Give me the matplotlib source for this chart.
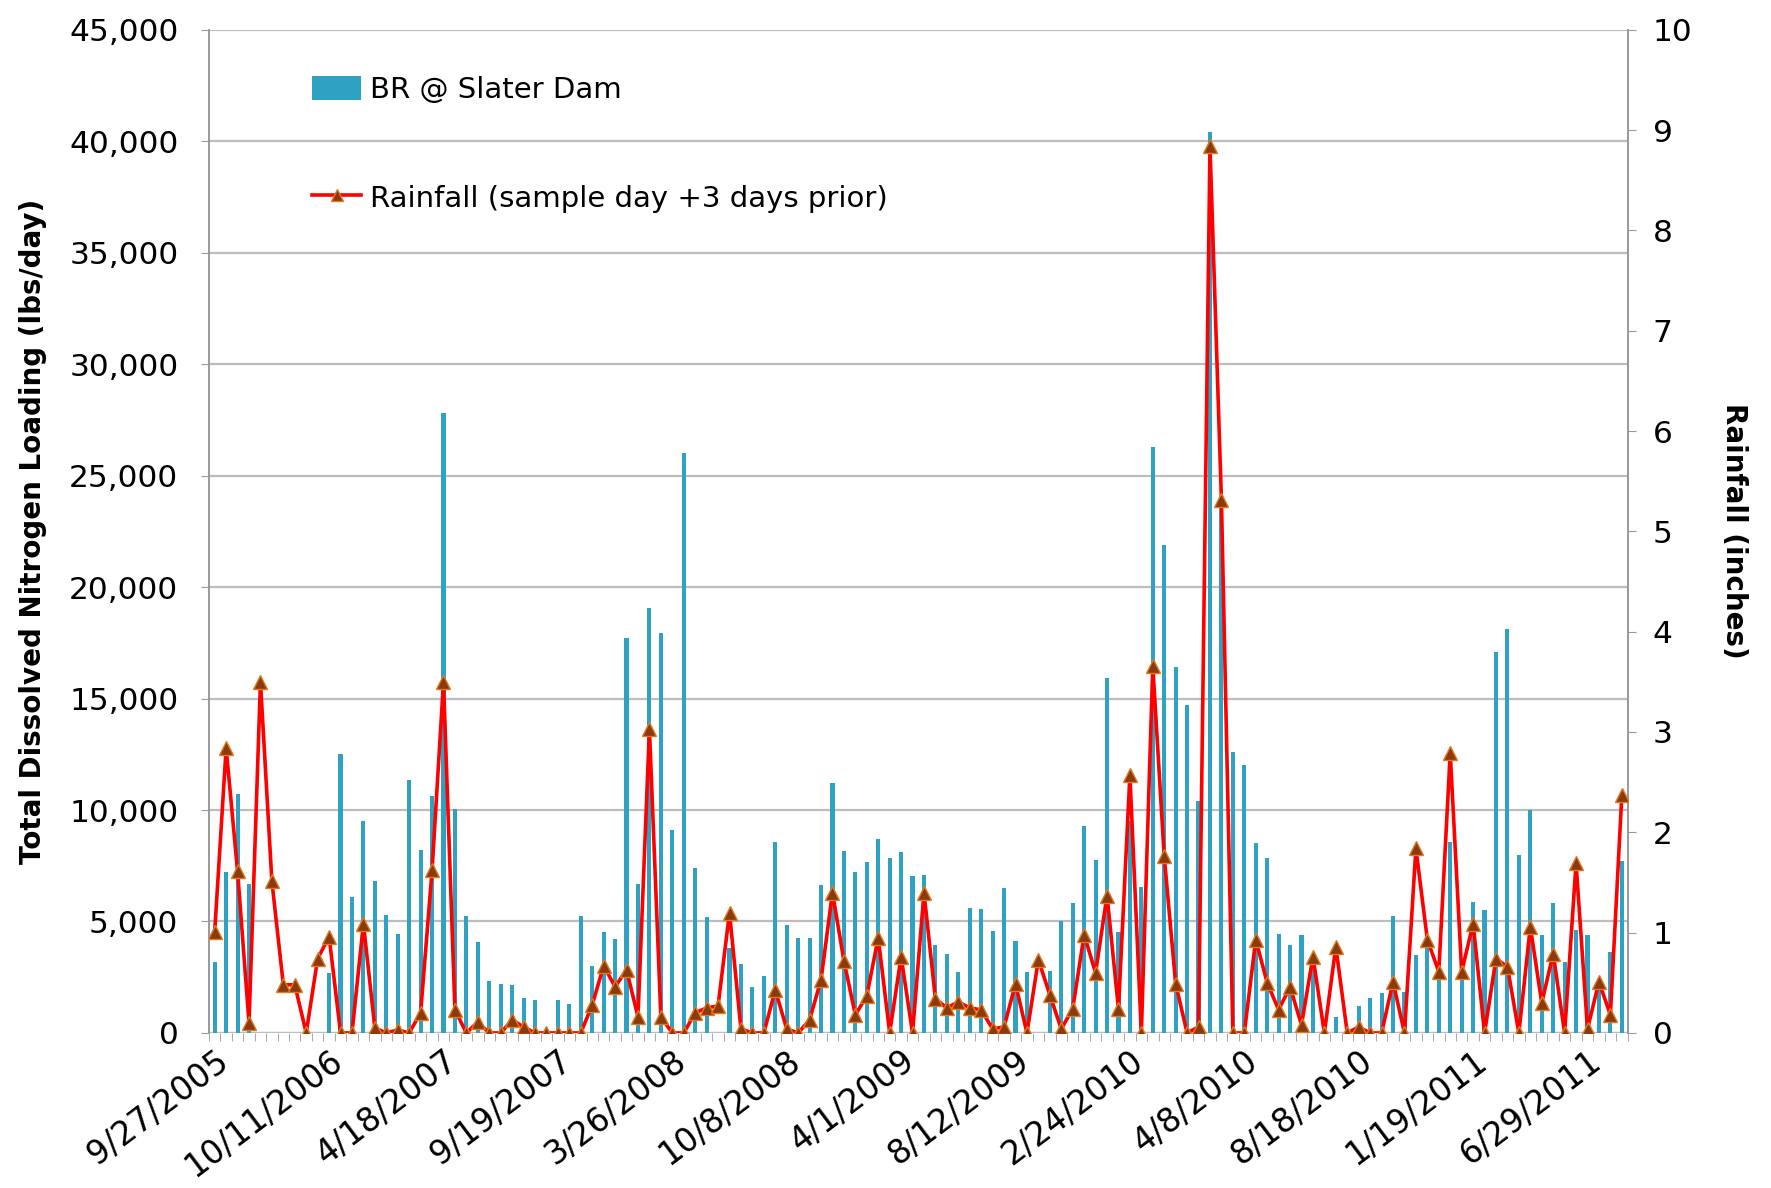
import numpy as np
import matplotlib
matplotlib.use("Agg")
import matplotlib.pyplot as plt
from matplotlib.lines import Line2D
from matplotlib.patches import Patch

# ---------------- data ----------------
tn_loading = [
    3200, 7200, 10700, 6700, 0, 0, 0, 0, 0, 0,
    2700, 12500, 6100, 9500, 6800, 5300, 4450, 11350, 8200, 10650,
    27800, 10050, 5250, 4100, 2350, 2200, 2150, 1550, 1500, 0,
    1500, 1300, 5250, 3000, 4550, 4200, 17700, 6700, 19050, 17950,
    9100, 26000, 7400, 5200, 0, 3800, 3100, 2050, 2550, 8550,
    4850, 4280, 4280, 6630, 11230, 8170, 7230, 7650, 8680, 7870,
    8120, 7030, 7080, 3940, 3540, 2750, 5610, 5540, 4570, 6510,
    4130, 2750, 0, 2760, 5000, 5810, 9270, 7780, 15920, 4520,
    9500, 6560, 26300, 21900, 16400, 14700, 10400, 40400, 24000, 12580,
    12000, 8500, 7870, 4420, 3940, 4380, 3300, 0, 700, 0,
    1220, 1550, 1810, 5240, 1830, 3480, 3790, 2820, 8570, 3000,
    5880, 5510, 17110, 18130, 7970, 10020, 4390, 5830, 3200, 4600,
    4390, 2230, 3640, 7720,
]

rainfall = [
    1.01, 2.84, 1.61, 0.10, 3.50, 1.51, 0.48, 0.48, 0.00, 0.74,
    0.96, 0.00, 0.00, 1.09, 0.05, 0.00, 0.03, 0.00, 0.20, 1.62,
    3.50, 0.23, 0.00, 0.11, 0.00, 0.00, 0.13, 0.06, 0.00, 0.00,
    0.00, 0.00, 0.00, 0.28, 0.67, 0.46, 0.63, 0.16, 3.03, 0.16,
    0.00, 0.00, 0.20, 0.25, 0.27, 1.20, 0.04, 0.00, 0.00, 0.43,
    0.04, 0.00, 0.13, 0.53, 1.40, 0.72, 0.18, 0.37, 0.95, 0.00,
    0.76, 0.00, 1.40, 0.34, 0.25, 0.31, 0.25, 0.23, 0.04, 0.06,
    0.49, 0.00, 0.73, 0.38, 0.04, 0.24, 0.98, 0.60, 1.37, 0.24,
    2.57, 0.00, 3.66, 1.76, 0.49, 0.00, 0.06, 8.84, 5.31, 0.00,
    0.00, 0.93, 0.50, 0.23, 0.46, 0.08, 0.76, 0.00, 0.86, 0.00,
    0.06, 0.00, 0.00, 0.51, 0.00, 1.84, 0.93, 0.61, 2.79, 0.61,
    1.09, 0.00, 0.74, 0.66, 0.00, 1.06, 0.30, 0.79, 0.00, 1.69,
    0.04, 0.51, 0.18, 2.37,
]

tick_labels = ["9/27/2005", "10/11/2006", "4/18/2007", "9/19/2007", "3/26/2008",
               "10/8/2008", "4/1/2009", "8/12/2009", "2/24/2010", "4/8/2010",
               "8/18/2010", "1/19/2011", "6/29/2011"]
label_every = 10

bar_name = "BR @ Slater Dam"
line_name = "Rainfall (sample day +3 days prior)"

# ---------------- plot ----------------
plt.rcParams['font.family'] = ['DejaVu Sans']
fig = plt.figure(figsize=(17.71, 11.88), dpi=100)
ax = fig.add_axes([0.118, 0.1305, 0.801, 0.8445])
ax2 = ax.twinx()

n = len(tn_loading)
x = np.arange(n)
bar_color = "#2FA2C4"
ax.bar(x, tn_loading, width=0.36, color=bar_color, zorder=2)

TFS = 22.5
ax.set_xlim(-0.5, n - 0.5)
ax.set_ylim(0, 45000)
ax.set_yticks(np.arange(0, 45001, 5000))
ax.set_yticklabels([f"{v:,}" for v in range(0, 45001, 5000)], fontsize=TFS)
ax.yaxis.grid(True, color="#BDBDBD", linewidth=1.6, zorder=0)
ax.set_axisbelow(True)

# category boundary ticks and labels
ax.set_xticks(np.arange(-0.5, n, 1.0), minor=True)
ax.set_xticks(np.arange(0, n, label_every))
ax.set_xticklabels(tick_labels, fontsize=TFS + 1, rotation=37, ha="right",
                   va="top", rotation_mode="anchor")
ax.tick_params(axis="x", which="major", length=0, pad=8)
ax.tick_params(axis="x", which="minor", length=6, color="#999999")
ax.tick_params(axis="y", length=6, color="#999999", pad=16)

for s in ["top", "bottom"]:
    ax.spines[s].set_visible(False)
    ax2.spines[s].set_visible(False)
for a in (ax, ax2):
    a.spines["left"].set_color("#999999")
    a.spines["right"].set_color("#999999")
    a.spines["left"].set_linewidth(1.2)
    a.spines["right"].set_linewidth(1.2)
ax.axhline(0, color="#BDBDBD", linewidth=1.6, zorder=1)

ax2.plot(x, rainfall, color="#FF0000", linewidth=2.6, marker="^",
         markersize=10.5, markerfacecolor="#8B3A0E", markeredgecolor="#E07A20",
         markeredgewidth=1.0, zorder=5)
ax2.set_ylim(0, 10)
ax2.set_yticks(np.arange(0, 11, 1))
ax2.set_yticklabels([str(v) for v in range(0, 11)], fontsize=TFS)
ax2.tick_params(axis="y", length=6, color="#999999", pad=12)

ax.set_ylabel("Total Dissolved Nitrogen Loading (lbs/day)", fontsize=20,
              fontweight="bold", labelpad=16)
ax2.set_ylabel("Rainfall (inches)", fontsize=20, fontweight="bold",
               rotation=-90, labelpad=40)

handles = [Patch(facecolor=bar_color, edgecolor="none"),
           Line2D([0], [0], color="#FF0000", linewidth=2.6, marker="^",
                  markersize=8, markerfacecolor="#8B3A0E",
                  markeredgecolor="#E07A20")]
leg = ax.legend(handles, [bar_name, line_name], loc="upper left",
                bbox_to_anchor=(0.054, 0.98), frameon=False, fontsize=21,
                labelspacing=2.75, handlelength=1.7, handleheight=0.9,
                handletextpad=0.3)
leg.set_zorder(10)

fig.savefig("out.png", dpi=100, facecolor="white")
